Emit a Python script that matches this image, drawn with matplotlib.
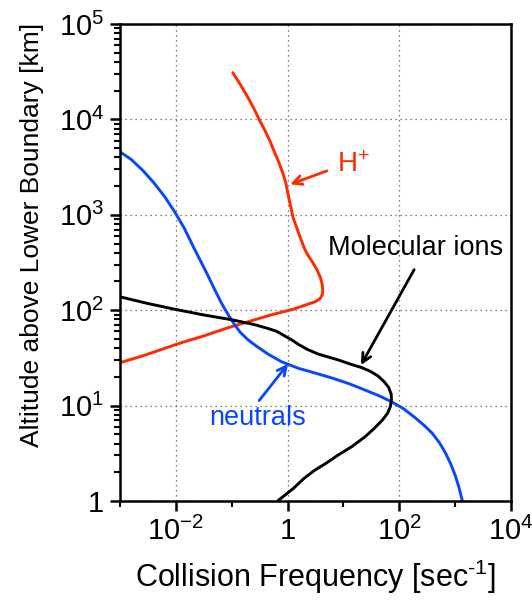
import numpy as np
import matplotlib
matplotlib.use('Agg')
import matplotlib.pyplot as plt

plt.rcParams['font.family'] = ['Liberation Sans', 'DejaVu Sans']
plt.rcParams['mathtext.fontset'] = 'custom'
plt.rcParams['mathtext.rm'] = 'Liberation Sans'
plt.rcParams['mathtext.it'] = 'Liberation Sans:italic'

h_plus_logf = [-3.0, -2.6, -2.2, -1.9, -1.5, -1.1, -0.7, -0.3, 0.1, 0.35, 0.5, 0.58,
               0.62, 0.63, 0.62, 0.59, 0.53, 0.45, 0.36, 0.3, 0.24, 0.16, 0.1, 0.05,
               0.0, -0.03, -0.08, -0.15, -0.23, -0.32, -0.42, -0.5, -0.6, -0.7, -0.84, -0.98]
h_plus_logz = [1.45, 1.52, 1.60, 1.66, 1.73, 1.81, 1.88, 1.95, 2.01, 2.06, 2.09, 2.12,
               2.16, 2.2, 2.27, 2.34, 2.42, 2.50, 2.58, 2.65, 2.74, 2.87, 2.97, 3.1,
               3.24, 3.33, 3.43, 3.54, 3.65, 3.78, 3.90, 3.99, 4.11, 4.22, 4.36, 4.49]

neutral_logf = [-3.0, -2.8, -2.6, -2.4, -2.2, -2.02, -1.85, -1.7, -1.57, -1.44, -1.3,
                -1.18, -1.05, -0.95, -0.85, -0.71, -0.55, -0.35, -0.11, 0.2, 0.5, 0.79,
                1.1, 1.4, 1.65, 1.86, 2.07, 2.27, 2.45, 2.59, 2.72, 2.83, 2.92, 3.0,
                3.07, 3.13]
neutral_logz = [3.66, 3.58, 3.47, 3.34, 3.19, 3.03, 2.86, 2.68, 2.53, 2.38, 2.21,
                2.07, 1.94, 1.85, 1.77, 1.69, 1.62, 1.54, 1.46, 1.39, 1.34, 1.29,
                1.23, 1.16, 1.10, 1.04, 0.97, 0.88, 0.79, 0.71, 0.61, 0.50, 0.39, 0.27,
                0.14, 0.0]

mol_logf = [-3.0, -2.5, -2.02, -1.5, -1.0, -0.6, -0.36, -0.2, -0.05, 0.07, 0.2, 0.35,
            0.55, 0.9, 1.15, 1.32, 1.48, 1.62, 1.73, 1.81, 1.855, 1.86, 1.84, 1.79,
            1.7, 1.55, 1.38, 1.15, 0.9, 0.7, 0.48, 0.3, 0.1, -0.05, -0.18]
mol_logz = [2.14, 2.07, 2.01, 1.95, 1.90, 1.85, 1.81, 1.78, 1.73, 1.69, 1.64, 1.59,
            1.54, 1.48, 1.43, 1.40, 1.36, 1.31, 1.25, 1.19, 1.12, 1.06, 0.99, 0.92,
            0.85, 0.76, 0.67, 0.57, 0.48, 0.40, 0.32, 0.24, 0.13, 0.06, 0.0]

x_ticks = [1e-2, 1, 1e2, 1e4]
x_ticklabels = ['$10^{-2}$', '1', '$10^{2}$', '$10^{4}$']
y_ticks = [1, 1e1, 1e2, 1e3, 1e4, 1e5]
y_ticklabels = ['1', '$10^{1}$', '$10^{2}$', '$10^{3}$', '$10^{4}$', '$10^{5}$']

red = '#ff2a00'
blue = '#0a46ff'

fig = plt.figure(figsize=(5.32, 6.0), dpi=100)
ax = fig.add_axes([0.2256, 0.165, 0.7349, 0.795])

line_kw = dict(lw=2.1, solid_joinstyle='round', solid_capstyle='round')
ax.plot(10 ** np.array(h_plus_logf), 10 ** np.array(h_plus_logz), color=red, **line_kw)
ax.plot(10 ** np.array(neutral_logf), 10 ** np.array(neutral_logz), color=blue, **line_kw)
ax.plot(10 ** np.array(mol_logf), 10 ** np.array(mol_logz), color='black', **line_kw)

ax.set_xscale('log')
ax.set_yscale('log')
ax.set_xlim(1e-3, 1e4)
ax.set_ylim(1, 1e5)

ax.set_xticks(x_ticks)
ax.set_xticklabels(x_ticklabels)
ax.set_xticks([1e-3, 1e-1, 1e1, 1e3], minor=True)
ax.set_yticks(y_ticks)
ax.set_yticklabels(y_ticklabels)
ax.yaxis.set_minor_locator(matplotlib.ticker.LogLocator(base=10, subs=np.arange(2, 10)))
ax.yaxis.set_minor_formatter(matplotlib.ticker.NullFormatter())
ax.xaxis.set_minor_formatter(matplotlib.ticker.NullFormatter())

ax.tick_params(which='major', direction='out', length=7.5, width=1.8, labelsize=21, pad=4)
ax.tick_params(which='minor', direction='out', length=4.5, width=1.5)
for s in ax.spines.values():
    s.set_linewidth(1.8)

ax.grid(which='major', linestyle=(0, (1, 3)), color='#555555', linewidth=0.9)

ax.set_xlabel(r'Collision Frequency [sec$^{\text{-}1}$]', fontsize=22, labelpad=8)
ax.set_ylabel('Altitude above Lower Boundary [km]', fontsize=19)
ax.yaxis.set_label_coords(-0.195, 0.558)

# ------------------------------- annotations ------------------------------- #

ax.annotate('', xy=(10 ** 0.0, 10 ** 3.31), xytext=(10 ** 0.75, 10 ** 3.47),
            arrowprops=dict(arrowstyle='->', color=red, lw=2.0, mutation_scale=16))
ax.text(10 ** 0.88, 10 ** 3.52, 'H$^{+}$', color=red, fontsize=20, va='center', ha='left')

ax.annotate('', xy=(10 ** 1.29, 10 ** 1.40), xytext=(10 ** 2.29, 10 ** 2.45),
            arrowprops=dict(arrowstyle='->', color='black', lw=2.0, mutation_scale=16))
ax.text(10 ** 2.30, 10 ** 2.65, 'Molecular ions', color='black', fontsize=19.5,
        va='center', ha='center')

ax.annotate('', xy=(10 ** 0.04, 10 ** 1.46), xytext=(10 ** -0.54, 10 ** 1.03),
            arrowprops=dict(arrowstyle='->', color=blue, lw=2.0, mutation_scale=16))
ax.text(10 ** -0.54, 10 ** 0.87, 'neutrals', color=blue, fontsize=19.5,
        va='center', ha='center')

fig.savefig('out.png', dpi=100)
